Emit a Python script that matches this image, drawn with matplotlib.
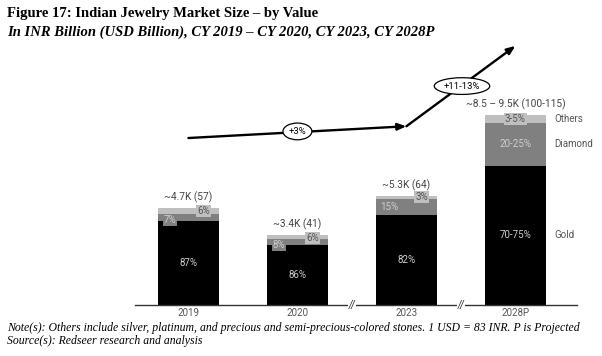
import matplotlib
matplotlib.use("Agg")
import matplotlib.pyplot as plt

years = ["2019", "2020", "2023", "2028P"]
totals = [4.7, 3.4, 5.3, 9.2]          # INR thousand billion (bar height)
total_labels = ["~4.7K (57)", "~3.4K (41)", "~5.3K (64)", "~8.5 – 9.5K (100-115)"]
gold_pct = [87, 86, 82, 73.5]
diamond_pct = [7, 8, 15, 22.5]
others_pct = [6, 6, 3, 4]
gold_labels = ["87%", "86%", "82%", "70-75%"]
diamond_labels = ["7%", "8%", "15%", "20-25%"]
others_labels = ["6%", "6%", "3%", "3-5%"]
segments = ["Gold", "Diamond", "Others"]
cagr_labels = ["+3%", "+11-13%"]

c_gold = "#000000"
c_diamond = "#808080"
c_others = "#bfbfbf"
txt_dark = "#555555"
txt_light = "#cfcfcf"
cfont = "Roboto"

W, H = 602, 356
fig = plt.figure(figsize=(W / 100, H / 100), dpi=100)

# axes placed in pixels: baseline at y=305, axis from x=135 to 577
ax_left, ax_right, ax_bottom, ax_top = 135, 577, 305, 37
ax = fig.add_axes([ax_left / W, (H - ax_bottom) / H, (ax_right - ax_left) / W, (ax_bottom - ax_top) / H])
ax.set_xlim(-0.49, 3.565)
ax.set_ylim(0, 13.0)
for s in ["top", "right", "left"]:
    ax.spines[s].set_visible(False)
ax.spines["bottom"].set_color("#333333")
ax.spines["bottom"].set_linewidth(1.0)
ax.set_yticks([])
ax.set_xticks(range(len(years)))
ax.set_xticklabels(years, fontsize=7, color=txt_dark, family=cfont)
ax.tick_params(axis="x", length=0, pad=2)

x = list(range(len(years)))
bw = 0.56
g = [t * p / 100 for t, p in zip(totals, gold_pct)]
d = [t * p / 100 for t, p in zip(totals, diamond_pct)]
o = [t * p / 100 for t, p in zip(totals, others_pct)]
ax.bar(x, g, width=bw, color=c_gold, zorder=2)
ax.bar(x, d, width=bw, bottom=g, color=c_diamond, zorder=2)
ax.bar(x, o, width=bw, bottom=[a + b for a, b in zip(g, d)], color=c_others, zorder=2)

for i in x:
    top = totals[i]
    ax.text(i, top + 0.25, total_labels[i], ha="center", va="bottom", fontsize=7.3,
            color="#444444", family=cfont)
    ax.text(i, g[i] / 2, gold_labels[i], ha="center", va="center", fontsize=7,
            color=txt_light, family=cfont)
    if i == 3:
        ax.text(i, g[i] + d[i] / 2, diamond_labels[i], ha="center", va="center",
                fontsize=7, color=txt_light, family=cfont)
        ax.text(i, g[i] + d[i] + o[i] / 2, others_labels[i], ha="center", va="center",
                fontsize=7, color=txt_dark, family=cfont,
                bbox=dict(boxstyle="square,pad=0.1", fc=c_others, ec="none"))
    elif i == 2:
        ax.text(i - 0.16, g[i] + d[i] / 2, diamond_labels[i], ha="center", va="center",
                fontsize=7, color=txt_light, family=cfont)
        ax.text(i + 0.14, top - 0.05, others_labels[i], ha="center", va="center",
                fontsize=7, color=txt_dark, family=cfont,
                bbox=dict(boxstyle="square,pad=0.1", fc=c_others, ec="none"))
    else:
        ax.text(i - 0.17, g[i] + d[i] / 2 - 0.15, diamond_labels[i], ha="center", va="center",
                fontsize=7, color=txt_light, family=cfont,
                bbox=dict(boxstyle="square,pad=0.1", fc=c_diamond, ec="none"))
        ax.text(i + 0.14, top - 0.15, others_labels[i], ha="center", va="center",
                fontsize=7, color=txt_dark, family=cfont,
                bbox=dict(boxstyle="square,pad=0.1", fc=c_others, ec="none"))

# segment names next to last bar
last = 3
seg_y = [g[last] / 2, g[last] + d[last] / 2, g[last] + d[last] + o[last] / 2]
for name, yy in zip(segments, seg_y):
    ax.text(last + 0.36, yy, name, ha="left", va="center", fontsize=7,
            color=txt_dark, family=cfont)

# axis breaks
for bx in [1.5, 2.5]:
    ax.text(bx, 0, "//", ha="center", va="center", fontsize=7, color="#333333",
            style="italic", family="DejaVu Sans",
            bbox=dict(boxstyle="square,pad=0.05", fc="white", ec="none"), zorder=3)

# growth arrows
p0, p1, p2 = (0.0, 8.1), (2.0, 8.67), (3.0, 12.57)
arrow = dict(arrowstyle="-|>,head_length=0.5,head_width=0.2", color="black", lw=1.7,
             shrinkA=0, shrinkB=0)
ax.annotate("", xy=p1, xytext=p0, arrowprops=arrow)
ax.annotate("", xy=p2, xytext=p1, arrowprops=arrow)
ax.text(1.0, 8.42, cagr_labels[0], ha="center", va="center", fontsize=6.8, family=cfont,
        bbox=dict(boxstyle="ellipse,pad=0.15", fc="white", ec="black", lw=0.9), zorder=4)
ax.text(2.51, 10.62, cagr_labels[1], ha="center", va="center", fontsize=6.8, family=cfont,
        bbox=dict(boxstyle="ellipse,pad=0.15", fc="white", ec="black", lw=0.9), zorder=4)

# titles and notes
serif = "Liberation Serif"
fig.text(7 / W, 1 - 14 / H, "Figure 17: Indian Jewelry Market Size – by Value", ha="left",
         va="center", fontsize=10.5, fontweight="bold", family=serif)
fig.text(7 / W, 1 - 32 / H, "In INR Billion (USD Billion), CY 2019 – CY 2020, CY 2023, CY 2028P",
         ha="left", va="center", fontsize=10.5, fontweight="bold", style="italic", family=serif)
fig.text(7 / W, 1 - 328 / H,
         "Note(s): Others include silver, platinum, and precious and semi-precious-colored stones. "
         "1 USD = 83 INR. P is Projected",
         ha="left", va="center", fontsize=8.5, style="italic", family=serif)
fig.text(7 / W, 1 - 341 / H, "Source(s): Redseer research and analysis", ha="left",
         va="center", fontsize=8.5, style="italic", family=serif)

fig.savefig("out.png", dpi=100)
